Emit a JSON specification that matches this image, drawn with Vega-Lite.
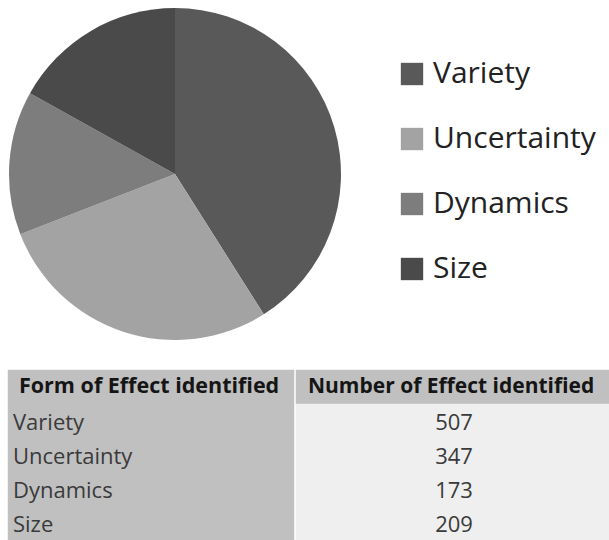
{
  "$schema": "https://vega.github.io/schema/vega-lite/v6.json",
  "padding": {"left": 7, "top": 4, "right": 0, "bottom": 0},
  "background": "white",
  "config": {"view": {"stroke": null}},
  "datasets": {
    "effects": [
      {"form": "Variety", "count": 507, "order": 1},
      {"form": "Uncertainty", "count": 347, "order": 2},
      {"form": "Dynamics", "count": 173, "order": 3},
      {"form": "Size", "count": 209, "order": 4}
    ],
    "table": [
      {"row": 0, "part": "header", "left": "Form of Effect identified", "right": "Number of Effect identified"},
      {"row": 1, "part": "body", "left": "Variety", "right": "507"},
      {"row": 2, "part": "body", "left": "Uncertainty", "right": "347"},
      {"row": 3, "part": "body", "left": "Dynamics", "right": "173"},
      {"row": 4, "part": "body", "left": "Size", "right": "209"}
    ]
  },
  "spacing": 25,
  "vconcat": [
    {
      "width": 334,
      "height": 340,
      "data": {"name": "effects"},
      "mark": {"type": "arc", "radius": 166, "stroke": null},
      "encoding": {
        "theta": {"field": "count", "type": "quantitative", "stack": true},
        "order": {"field": "order", "type": "quantitative"},
        "color": {
          "field": "form",
          "type": "nominal",
          "scale": {
            "domain": ["Variety", "Uncertainty", "Dynamics", "Size"],
            "range": ["#595959", "#a3a3a3", "#7d7d7d", "#4a4a4a"]
          },
          "legend": {
            "title": null,
            "orient": "none",
            "legendX": 389,
            "legendY": 55,
            "symbolType": "square",
            "symbolSize": 500,
            "symbolStrokeWidth": 0,
            "labelFont": "Open Sans",
            "labelFontSize": 30,
            "labelColor": "#222222",
            "rowPadding": 35,
            "labelOffset": 6,
            "labelLimit": 400
          }
        }
      }
    },
    {
      "spacing": 0,
      "hconcat": [
        {
          "width": 286,
          "height": 170,
          "data": {"name": "table"},
          "encoding": {
            "y": {"field": "row", "type": "ordinal", "axis": null, "scale": {"paddingInner": 0, "paddingOuter": 0}}
          },
          "layer": [
            {"mark": {"type": "rect", "fill": "#c0c0c0", "stroke": "#c0c0c0", "strokeWidth": 0.5}},
            {
              "transform": [{"filter": "datum.part === 'header'"}],
              "mark": {"type": "text", "align": "left", "dx": -132, "font": "Open Sans", "fontSize": 21.5, "fontWeight": "bold", "color": "#151515"},
              "encoding": {"text": {"field": "left"}}
            },
            {
              "transform": [{"filter": "datum.part === 'body'"}],
              "mark": {"type": "text", "align": "left", "dx": -138, "dy": 2, "font": "Open Sans", "fontSize": 22, "color": "#3a3a3a"},
              "encoding": {"text": {"field": "left"}}
            }
          ]
        },
        {
          "width": 316,
          "height": 170,
          "data": {"name": "table"},
          "encoding": {
            "y": {"field": "row", "type": "ordinal", "axis": null, "scale": {"paddingInner": 0, "paddingOuter": 0}}
          },
          "layer": [
            {
              "mark": {"type": "rect", "strokeWidth": 0.5},
              "encoding": {
                "fill": {"condition": {"test": "datum.part === 'header'", "value": "#c0c0c0"}, "value": "#efefef"},
                "stroke": {"condition": {"test": "datum.part === 'header'", "value": "#c0c0c0"}, "value": "#efefef"}
              }
            },
            {
              "transform": [{"filter": "datum.part === 'header'"}],
              "mark": {"type": "text", "align": "left", "dx": -146, "font": "Open Sans", "fontSize": 21, "fontWeight": "bold", "color": "#151515", "clip": true},
              "encoding": {"text": {"field": "right"}}
            },
            {
              "transform": [{"filter": "datum.part === 'body'"}],
              "mark": {"type": "text", "align": "center", "dy": 2, "font": "Open Sans", "fontSize": 22, "color": "#3a3a3a"},
              "encoding": {"text": {"field": "right"}}
            }
          ]
        }
      ]
    }
  ]
}
